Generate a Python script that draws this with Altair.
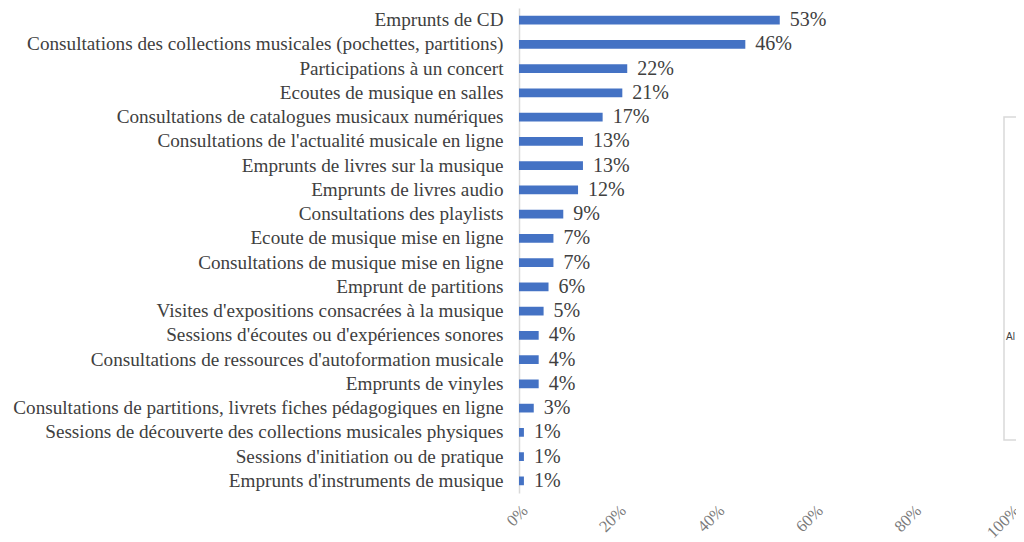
import altair as alt
import pandas as pd

categories = [
    "Emprunts de CD",
    "Consultations des collections musicales (pochettes, partitions)",
    "Participations à un concert ",
    "Ecoutes de musique en salles",
    "Consultations de catalogues musicaux numériques",
    "Consultations de l'actualité musicale en ligne",
    "Emprunts de livres sur la musique",
    "Emprunts de livres audio",
    "Consultations des playlists",
    "Ecoute de musique mise en ligne",
    "Consultations de musique mise en ligne",
    "Emprunt de partitions",
    "Visites d'expositions consacrées à la musique",
    "Sessions d'écoutes ou d'expériences sonores ",
    "Consultations de ressources d'autoformation musicale",
    "Emprunts de vinyles",
    "Consultations de partitions, livrets fiches pédagogiques en ligne",
    "Sessions de découverte des collections musicales physiques",
    "Sessions d'initiation ou de pratique ",
    "Emprunts d'instruments de musique",
]
values = [53, 46, 22, 21, 17, 13, 13, 12, 9, 7, 7, 6, 5, 4, 4, 4, 3, 1, 1, 1]
labels = ["53%", "46%", "22%", "21%", "17%", "13%", "13%", "12%", "9%", "7%",
          "7%", "6%", "5%", "4%", "4%", "4%", "3%", "1%", "1%", "1%"]
x_ticks = [0, 0.2, 0.4, 0.6, 0.8, 1.0]
legend_label = ["Al"]

df = pd.DataFrame({
    "cat": categories,
    "val": [v / 100 for v in values],
    "lab": labels,
})

FONT = "Liberation Serif"
TXT = "#404040"

y_enc = alt.Y(
    "cat:N", sort=categories, title=None,
    scale=alt.Scale(paddingInner=0.64, paddingOuter=0.32),
    axis=alt.Axis(labelFont=FONT, labelFontSize=19.2, labelColor=TXT,
                  labelPadding=16, ticks=False, domainColor="#d9d9d9",
                  domainWidth=1.5, labelLimit=700),
)
x_enc = alt.X(
    "val:Q", title=None,
    scale=alt.Scale(domain=[0, 1], nice=False),
    axis=alt.Axis(values=x_ticks, format=".0%", labelAngle=-45,
                  labelFont=FONT, labelFontSize=16.5, labelColor="#7a7a7a",
                  labelPadding=9, ticks=False, domain=False, grid=False,
                  labelOverlap=False, labelFlush=False),
)

bars = alt.Chart(df).mark_bar(color="#4472C4").encode(y=y_enc, x=x_enc)
text = alt.Chart(df).mark_text(
    align="left", baseline="middle", dx=10, font=FONT, fontSize=20, color=TXT
).encode(y=alt.Y("cat:N", sort=categories), x="val:Q", text="lab:N")

legend_box = alt.Chart(pd.DataFrame({"a": [0]})).mark_rect(
    fill="white", stroke="#d9d9d9", strokeWidth=1.5
).encode(x=alt.value(485), x2=alt.value(530), y=alt.value(109), y2=alt.value(432))
legend_txt = alt.Chart(pd.DataFrame({"t": legend_label})).mark_text(
    align="left", baseline="middle", font="Liberation Sans", fontSize=10, color="#404040"
).encode(x=alt.value(487), y=alt.value(329), text="t:N")

chart = (
    alt.layer(bars, text, legend_box, legend_txt)
    .properties(
        width=492, height=485,
        background="white",
        autosize=alt.AutoSizeParams(type="none"),
        padding={"left": 511, "top": 0, "right": 5, "bottom": 49},
    )
    .configure_view(stroke="transparent", strokeWidth=0)
)

chart.save("out.html", embed_options={"renderer": "svg", "actions": False})
